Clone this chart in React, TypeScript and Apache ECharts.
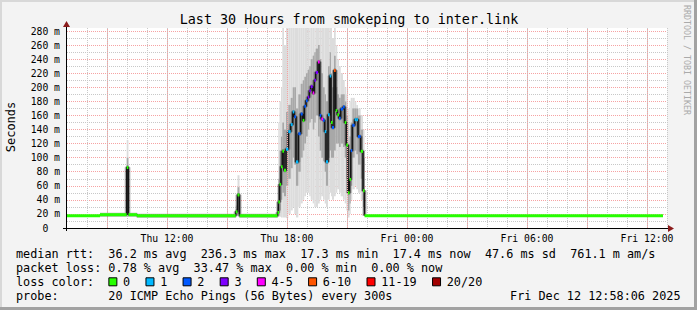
import React, { useEffect, useRef } from 'react';
import * as echarts from 'echarts';

// ---- data (time in hours since Thu 00:00, values in ms) ----
const segStart = [
  7.0, 8.65, 9.985, 10.07, 10.5, 15.435, 15.525, 15.625,
  17.525, 17.565, 17.625, 17.7, 17.765, 17.85, 17.95, 18.065, 18.185, 18.285,
  18.365, 18.45, 18.565, 18.685, 18.785, 18.865, 18.95, 19.035, 19.115, 19.185,
  19.285, 19.365, 19.435, 19.55, 19.635, 19.715, 19.8, 19.885, 19.95, 20.05,
  20.135, 20.2, 20.25, 20.35, 20.435, 20.515, 20.6, 20.685, 20.8, 20.885,
  20.965, 21.05, 21.125, 21.185, 21.265, 21.385, 21.465, 21.55, 21.685, 21.8,
  21.875,
];
const dataEnd = 36.8;
const medianMs = [
  17.5, 18.9, 86, 18.9, 17.5, 23, 47, 17.5,
  22, 37, 62, 87, 109, 82, 112, 137, 147, 165,
  158, 94, 134, 162, 153, 173, 181, 186, 195, 201,
  192, 210, 221, 236, 160, 155, 153, 137, 94, 161,
  216, 150, 143, 224, 167, 161, 156, 169, 172, 150,
  118, 50, 69, 110, 146, 154, 154, 130, 109, 53,
  17.4,
];
const lossIdx = [
  0, 0, 0, 0, 0, 0, 0, 0,
  0, 0, 0, 0, 0, 0, 1, 1, 1, 1,
  2, 1, 2, 2, 0, 2, 2, 3, 3, 3,
  4, 3, 3, 4, 2, 4, 2, 1, 1, 1,
  1, 0, 2, 5, 0, 0, 2, 2, 2, 0,
  0, 0, 0, 2, 2, 1, 1, 2, 0, 0,
  0,
];
const smokeLo = [
  null, null, 18, null, null, 18, 19, null,
  17, 16, 16, 15, 15, 15, 14, 20, 25, 30,
  20, 15, 30, 35, 40, 45, 50, 50, 45, 40,
  35, 30, 30, 35, 40, 45, 40, 35, 30, 40,
  50, 45, 40, 45, 50, 55, 50, 45, 40, 35,
  25, 15, 20, 40, 55, 60, 55, 50, 40, 25,
  null,
];
const smokeHi = [
  null, null, 125, null, null, 32, 75, null,
  40, 150, 180, 200, 290, 260, 290, 290, 290, 290,
  290, 290, 290, 290, 290, 290, 290, 290, 290, 290,
  290, 290, 290, 290, 290, 290, 290, 290, 290, 290,
  290, 290, 270, 290, 260, 240, 230, 220, 210, 200,
  190, 170, 180, 185, 185, 180, 175, 170, 160, 140,
  null,
];
const coreLo = [
  null, null, 20, null, null, 19, 20, null,
  18, 20, 25, 40, 50, 45, 60, 70, 85, 100,
  90, 60, 80, 100, 110, 120, 130, 140, 150, 155,
  140, 150, 160, 130, 110, 100, 95, 80, 60, 100,
  110, 100, 100, 110, 120, 120, 115, 120, 115, 100,
  70, 25, 35, 60, 100, 110, 105, 90, 70, 30,
  null,
];
const coreHi = [
  null, null, 100, null, null, 27, 58, null,
  30, 70, 110, 130, 150, 140, 165, 175, 185, 200,
  200, 170, 190, 205, 210, 215, 220, 225, 230, 240,
  245, 250, 255, 260, 240, 220, 200, 190, 180, 230,
  250, 220, 200, 245, 200, 190, 185, 190, 190, 180,
  160, 110, 130, 150, 170, 170, 170, 160, 140, 100,
  null,
];

const lossLabels = ['0', '1', '2', '3', '4-5', '6-10', '11-19', '20/20'];
const lossColors = ['#26ff00', '#00b8ff', '#0059ff', '#7e00ff', '#ff00ff', '#ff5500', '#ff0000', '#a10000'];

const xMin = 7;
const xMax = 37;
const yMax = 284.3;
const majorGridHours = [9, 12, 15, 18, 21, 24, 27, 30, 33, 36];
const xLabelHours = [12, 18, 24, 30, 36];
const xLabelTexts = ['Thu 12:00', 'Thu 18:00', 'Fri 00:00', 'Fri 06:00', 'Fri 12:00'];

const titleText = 'Last 30 Hours from smokeping to inter.link';
const unitText = 'Seconds';
const watermarkText = 'RRDTOOL / TOBI OETIKER';
const legendLine1 = 'median rtt:  36.2 ms avg  236.3 ms max  17.3 ms min  17.4 ms now  47.6 ms sd  761.1 m am/s';
const legendLine2 = 'packet loss: 0.78 % avg  33.47 % max  0.00 % min  0.00 % now';
const lossColorLabel = 'loss color:';
const legendLine4 = 'probe:       20 ICMP Echo Pings (56 Bytes) every 300s';
const dateText = 'Fri Dec 12 12:58:06 2025';

// ---- layout ----
const GRID = { left: 67, top: 28, width: 600, height: 200 };
const MONO = '"DejaVu Sans Mono", monospace';
const LEG_PX = 11.8;
const CHAR_W = LEG_PX * 0.6021;
const LEG_X = 16;
const LEG_FONT = `${LEG_PX}px ${MONO}`;
const ROW_Y = [254.3, 268.3, 282.3, 296.2];

function textEl(text: string, x: number, y: number, font: string, extra: any = {}) {
  return {
    type: 'text',
    x,
    y,
    silent: true,
    rotation: extra.rotation || 0,
    style: {
      text,
      font,
      fill: extra.fill || '#000',
      textAlign: extra.align || 'left',
      align: extra.align || 'left',
      textVerticalAlign: 'middle',
      verticalAlign: 'middle',
    },
  };
}

function monoLine(line: string, y: number) {
  const els: any[] = [];
  const re = /\S+(?: \S+)*/g;
  let m: RegExpExecArray | null;
  while ((m = re.exec(line)) !== null) {
    els.push(textEl(m[0], LEG_X + m.index * CHAR_W, y, LEG_FONT));
  }
  return els;
}

function buildOption() {
  const n = segStart.length;
  const segEnd = segStart.map((s, i) => (i + 1 < n ? segStart[i + 1] : dataEnd));
  const hasSmoke = (i: number) => i >= 0 && i < n && smokeLo[i] != null;
  const outerData: number[][] = [];
  const midData: number[][] = [];
  for (let i = 0; i < n; i++) {
    if (hasSmoke(i)) {
      outerData.push([segStart[i], segEnd[i], smokeLo[i] as number, smokeHi[i] as number]);
      midData.push([segStart[i], segEnd[i], coreLo[i] as number, coreHi[i] as number]);
    }
  }
  const medianData = segStart.map((s, i) => [s, segEnd[i], medianMs[i], lossIdx[i]]);
  const stemData = segStart.map((s, i) =>
    hasSmoke(i) || hasSmoke(i - 1) || hasSmoke(i + 1) ? [s, medianMs[i]] : [s, null]
  );

  const band = (name: string, data: number[][], fill: string) => ({
    type: 'custom',
    name,
    data,
    clip: true,
    silent: true,
    z: 2,
    encode: { x: [0, 1], y: [2, 3] },
    renderItem: (_p: any, api: any) => {
      const a = api.coord([api.value(0), api.value(3)]);
      const b = api.coord([api.value(1), api.value(2)]);
      return {
        type: 'rect',
        shape: { x: a[0], y: a[1], width: b[0] - a[0], height: b[1] - a[1] },
        style: { fill },
      };
    },
  });

  const legendEls: any[] = [];
  legendEls.push(...monoLine(legendLine1, ROW_Y[0]));
  legendEls.push(...monoLine(legendLine2, ROW_Y[1]));
  legendEls.push(textEl(lossColorLabel, LEG_X, ROW_Y[2], LEG_FONT));
  let bx = LEG_X + 13 * CHAR_W;
  lossLabels.forEach((lab, i) => {
    legendEls.push({
      type: 'rect',
      silent: true,
      shape: { x: bx + 0.5, y: ROW_Y[2] - 4.5, width: 8, height: 8 },
      style: { fill: lossColors[i], stroke: '#000', lineWidth: 1 },
    });
    legendEls.push(textEl(lab, bx + 14.7, ROW_Y[2], LEG_FONT));
    bx += 30.0 + lab.length * CHAR_W;
  });
  legendEls.push(...monoLine(legendLine4, ROW_Y[3]));
  legendEls.push(textEl(dateText, 680.5, ROW_Y[3], LEG_FONT, { align: 'right' }));

  const gx0 = GRID.left;
  const gy1 = GRID.top + GRID.height;
  const gx1 = GRID.left + GRID.width;

  const graphics: any[] = [
    { type: 'rect', silent: true, shape: { x: 0, y: 0, width: 697, height: 2 }, style: { fill: '#d8d8d8' } },
    { type: 'rect', silent: true, shape: { x: 0, y: 0, width: 2, height: 310 }, style: { fill: '#d8d8d8' } },
    { type: 'rect', silent: true, shape: { x: 694, y: 0, width: 3, height: 310 }, style: { fill: '#a2a2a2' } },
    { type: 'rect', silent: true, shape: { x: 0, y: 307, width: 697, height: 3 }, style: { fill: '#a2a2a2' } },
    { type: 'line', silent: true, shape: { x1: gx0 - 4, y1: gy1 + 0.5, x2: gx1 + 2, y2: gy1 + 0.5 }, style: { stroke: '#000', lineWidth: 1 } },
    { type: 'line', silent: true, shape: { x1: gx0 - 0.5, y1: gy1 + 3, x2: gx0 - 0.5, y2: GRID.top - 3 }, style: { stroke: '#000', lineWidth: 1 } },
    { type: 'polygon', silent: true, shape: { points: [[gx1 + 1, gy1 - 3], [gx1 + 7, gy1 + 0.5], [gx1 + 1, gy1 + 4]] }, style: { fill: '#8b1c1c' } },
    { type: 'polygon', silent: true, shape: { points: [[gx0 - 4, GRID.top - 1], [gx0 - 0.5, GRID.top - 7], [gx0 + 3, GRID.top - 1]] }, style: { fill: '#8b1c1c' } },
    textEl(titleText, 349, 19, `13.4px ${MONO}`, { align: 'center' }),
    textEl(unitText, 10.5, 127, `12px ${MONO}`, { align: 'center', rotation: Math.PI / 2 }),
    textEl(watermarkText, 687.3, 5, `8.3px ${MONO}`, { align: 'left', rotation: -Math.PI / 2, fill: '#aaaaaa' }),
    ...legendEls,
  ];

  const axisFont = { fontFamily: MONO, fontSize: 9.75, color: '#000' };

  return {
    animation: false,
    backgroundColor: '#f3f3f3',
    grid: { ...GRID, show: true, backgroundColor: '#ffffff', borderWidth: 0, containLabel: false },
    xAxis: {
      type: 'value',
      min: xMin,
      max: xMax,
      interval: 1,
      axisLine: { show: false },
      axisTick: { show: false },
      axisLabel: {
        ...axisFont,
        margin: 5,
        formatter: (v: number) => {
          const i = xLabelHours.indexOf(Math.round(v * 1000) / 1000);
          return i >= 0 ? xLabelTexts[i] : '';
        },
      },
      splitLine: { show: true, showMinLine: false, lineStyle: { color: '#c8c8c8', type: [1, 1], width: 1 } },
    },
    yAxis: [
      {
        type: 'value',
        min: 0,
        max: yMax,
        interval: 10,
        axisLine: { show: false },
        axisTick: { show: false },
        axisLabel: { show: false },
        splitLine: { show: true, showMinLine: false, showMaxLine: false, lineStyle: { color: '#c8c8c8', type: [1, 1], width: 1 } },
      },
      {
        type: 'value',
        min: 0,
        max: yMax,
        interval: 20,
        position: 'left',
        axisLine: { show: false },
        axisTick: { show: false },
        axisLabel: {
          ...axisFont,
          margin: 7,
          formatter: (v: number) => {
            const r = Math.round(v);
            if (Math.abs(v - r) > 1e-6 || r % 20 !== 0) return '';
            return r === 0 ? '{z|0}' : `${r} m`;
          },
          rich: { z: { ...axisFont, padding: [0, 11.7, 0, 0] } },
        },
        splitLine: { show: true, showMinLine: false, showMaxLine: false, lineStyle: { color: '#f6a3a3', type: [1, 1], width: 1 } },
      },
    ],
    series: [
      {
        type: 'line',
        name: 'majorGrid',
        z: 1,
        data: [],
        silent: true,
        markLine: {
          silent: true,
          symbol: ['none', 'none'],
          label: { show: false },
          lineStyle: { color: '#f6a3a3', type: [1, 1], width: 1 },
          emphasis: { disabled: true },
          data: majorGridHours.map((h) => ({ xAxis: h })),
        },
      },
      band('smokeOuter', outerData, '#dcdcdc'),
      band('smokeMid', midData, '#a8a8a8'),
      {
        type: 'line',
        name: 'halo',
        z: 3,
        data: stemData,
        step: 'end',
        symbol: 'none',
        silent: true,
        connectNulls: false,
        lineStyle: { color: 'rgba(40,40,40,0.35)', width: 4 },
      },
      {
        type: 'line',
        name: 'stem',
        z: 4,
        data: stemData,
        step: 'end',
        symbol: 'none',
        silent: true,
        connectNulls: false,
        lineStyle: { color: '#151515', width: 1.6 },
      },
      {
        type: 'custom',
        name: 'median',
        z: 6,
        data: medianData,
        clip: true,
        silent: true,
        encode: { x: [0, 1], y: 2 },
        renderItem: (_p: any, api: any) => {
          const a = api.coord([api.value(0), api.value(2)]);
          const b = api.coord([api.value(1), api.value(2)]);
          return {
            type: 'rect',
            z2: 10,
            shape: { x: a[0], y: a[1] - 1.5, width: Math.max(b[0] - a[0], 1.6), height: 3 },
            style: { fill: lossColors[api.value(3)] },
          };
        },
      },
    ],
    graphic: { elements: graphics },
  };
}

export default function App() {
  const ref = useRef<HTMLDivElement>(null);
  useEffect(() => {
    const chart = echarts.init(ref.current as HTMLDivElement, null, { renderer: 'svg', width: 697, height: 310 });
    chart.setOption(buildOption() as any);
    return () => chart.dispose();
  }, []);
  return <div ref={ref} style={{ position: 'fixed', left: 0, top: 0, width: 697, height: 310 }} />;
}
